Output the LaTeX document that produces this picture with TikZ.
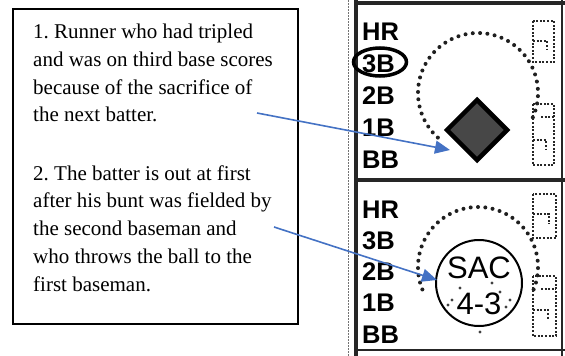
\documentclass[tikz,border=0pt]{standalone}
\usepackage{fontspec}
\setmainfont{Liberation Serif}
\newfontfamily\lsans{Liberation Sans}
\usetikzlibrary{arrows.meta,shapes.geometric}
\definecolor{arrowblue}{HTML}{4472C4}
\definecolor{diamondgray}{HTML}{474747}
\frenchspacing
\begin{document}
\begin{tikzpicture}[x=1pt,y=-1pt,
  txt/.style={anchor=base west, inner sep=0pt, font=\fontsize{21}{24}\selectfont},
  lbl/.style={anchor=base west, inner sep=0pt, font=\lsans\bfseries\fontsize{25.5}{27}\selectfont},
  dotfill/.style={fill=black!88},
  smalldot/.style={line width=2pt, dash pattern=on 2pt off 1.6pt, black!85},
  gridline/.style={black!85},
  link/.style={arrowblue, line width=1.6pt, -{Triangle[length=15pt,width=13pt]}}]
\useasboundingbox (0,0) rectangle (565,356);

% text box
\node[draw, line width=1.5pt, fill=white, anchor=north west, inner sep=0pt,
      minimum width=285pt, minimum height=315pt] (textbox) at (12,8) {};
\node[txt] (l1) at (33,38.5) {1. Runner who had tripled};
\node[txt] (l2) at (33,66.3) {and was on third base scores};
\node[txt] (l3) at (33,94.1) {because of the sacrifice of};
\node[txt] (l4) at (33,121.9) {the next batter.};
\node[txt] (l5) at (33,180) {2. The batter is out at first};
\node[txt] (l6) at (33,207.8) {after his bunt was fielded by};
\node[txt] (l7) at (33,235.6) {the second baseman and};
\node[txt] (l8) at (33,263.4) {who throws the ball to the};
\node[txt] (l9) at (33,291.2) {first baseman.};

% scorecard grid
\draw[gridline, black!55, line width=1pt, dash pattern=on 1.5pt off 1.5pt] (348,0) -- (348,356);
\draw[gridline, line width=4pt] (356,0) -- (356,356);
\draw[gridline, line width=2pt] (562,0) -- (562,356);
\draw[gridline, line width=3.5pt] (354,3) -- (565,3);
\draw[gridline, line width=3.5pt] (354,180) -- (565,180);
\draw[gridline, line width=2.5pt] (354,350) -- (565,350);

% top cell
\node[lbl] (hr1) at (362,40) {HR};
\node[lbl] (tb1) at (362,72) {3B};
\node[lbl] (sb1) at (362,104) {2B};
\node[lbl] (fb1) at (362,136) {1B};
\node[lbl] (bb1) at (362,168) {BB};
\node[ellipse, draw, line width=3.5pt, minimum width=53pt, minimum height=28pt, inner sep=0pt] (ring) at (380,62) {};
\foreach \a in {132,139,...,390} \fill[dotfill] (478,93) ++(\a:60) circle[radius=2];
\draw[smalldot] (533,21) rectangle (554,62);
\draw[smalldot] (533,41) -- (547,41) -- (547,50);
\draw[smalldot] (533,104) rectangle (554,165);
\draw[smalldot] (541,117) -- (554,117);
\draw[smalldot] (533,140) -- (546,140) -- (546,150);
\node[diamond, draw=black, line width=4.5pt, fill=diamondgray, minimum width=62pt,
      minimum height=62pt, inner sep=0pt] (run) at (477,130) {};

% bottom cell
\node[lbl] (hr2) at (362,218) {HR};
\node[lbl] (tb2) at (362,249) {3B};
\node[lbl] (sb2) at (362,280) {2B};
\node[lbl] (fb2) at (362,311) {1B};
\node[lbl] (bb2) at (362,343) {BB};
\foreach \a in {158,165,...,382} \fill[dotfill] (478,267) ++(\a:60) circle[radius=2];
\foreach \p in {(460,288),(492,283),(500,292),(452,300),(510,300),(448,305),(506,307),(480,332)}
  \fill[black!75] \p circle[radius=1.7];
\draw[smalldot] (533,194) rectangle (556,238);
\draw[smalldot] (533,214) -- (549,214) -- (549,224);
\draw[smalldot] (533,276) rectangle (556,336);
\draw[smalldot] (541,289) -- (556,289);
\draw[smalldot] (533,310) -- (548,310) -- (548,320);
\node[circle, draw, line width=2pt, minimum size=86pt, inner sep=0pt] (sac) at (479,283) {};
\node[font=\lsans\fontsize{31}{33}\selectfont, inner sep=0pt] (sactxt) at (479,268) {SAC};
\node[font=\lsans\fontsize{31}{33}\selectfont, inner sep=0pt] (outtxt) at (479,304) {4-3};

% arrows
\coordinate (s1) at (257,113);
\coordinate (e1) at (450,150);
\coordinate (s2) at (274,227);
\coordinate (e2) at (437,280);
\draw[link] (s1) -- (e1);
\draw[link] (s2) -- (e2);
\end{tikzpicture}
\end{document}
